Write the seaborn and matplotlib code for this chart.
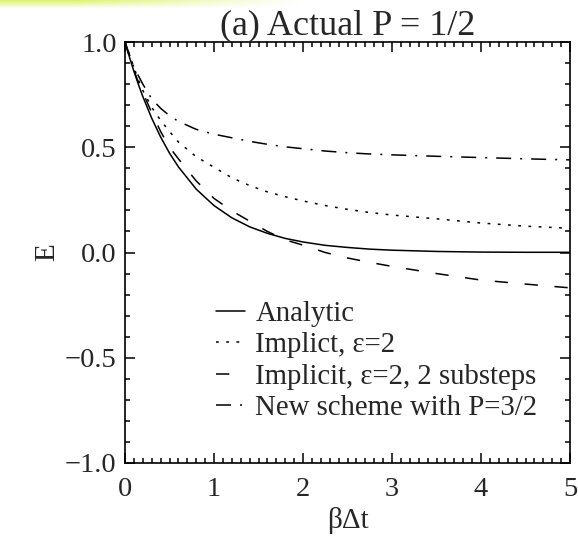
import numpy as np
import pandas as pd
import matplotlib
matplotlib.use("Agg")
import matplotlib.pyplot as plt
from matplotlib.ticker import MultipleLocator, FuncFormatter
import seaborn as sns

# ---- data ----
x_vals = [0, 0.05, 0.1, 0.15, 0.2, 0.3, 0.4, 0.5, 0.6, 0.8, 1.0, 1.2, 1.4, 1.6,
          1.8, 2.0, 2.25, 2.5, 2.75, 3.0, 3.5, 4.0, 4.5, 5.0]
analytic = [1.0, 0.928, 0.861, 0.799, 0.741, 0.638, 0.549, 0.472, 0.407, 0.301,
            0.223, 0.165, 0.122, 0.091, 0.067, 0.050, 0.034, 0.024, 0.016, 0.011,
            0.005, 0.002, 0.001, 0.001]
implicit = [1.0, 0.94, 0.88, 0.82, 0.77, 0.69, 0.628, 0.575, 0.525, 0.455,
            0.405, 0.355, 0.318, 0.288, 0.265, 0.245, 0.223, 0.205, 0.19, 0.178,
            0.16, 0.14, 0.125, 0.115]
implicit_sub = [1.0, 0.93, 0.865, 0.81, 0.76, 0.665, 0.575, 0.5, 0.445, 0.34,
                0.257, 0.198, 0.149, 0.10, 0.06, 0.035, 0.0, -0.026, -0.047, -0.066,
                -0.10, -0.131, -0.15, -0.168]
new_scheme = [1.0, 0.94, 0.88, 0.84, 0.80, 0.73, 0.685, 0.65, 0.623, 0.585,
              0.562, 0.545, 0.528, 0.514, 0.502, 0.493, 0.482, 0.474, 0.468, 0.464,
              0.457, 0.451, 0.445, 0.44]
series_names = ["Analytic", "Implict, \u03b5=2", "Implicit, \u03b5=2, 2 substeps",
                "New scheme with P=3/2"]
title = "(a) Actual P = 1/2"
xlabel = "\u03b2\u0394t"
ylabel = "E"

df = pd.DataFrame({
    "x": x_vals * 4,
    "E": analytic + implicit + implicit_sub + new_scheme,
    "series": sum([[n] * len(x_vals) for n in series_names], []),
})

sns.set_style("ticks")
plt.rcParams["font.family"] = ["Liberation Serif", "DejaVu Serif"]
plt.rcParams["axes.unicode_minus"] = True

fig = plt.figure(figsize=(5.78, 5.38), dpi=100)
ax = fig.add_axes([125 / 578, 1 - 463 / 538, 445 / 578, 421 / 538])

dash_map = {
    series_names[0]: "",
    series_names[1]: (1.8, 4.9),
    series_names[2]: (8.7, 10.9),
    series_names[3]: (9.8, 5.9, 1.3, 5.9),
}
sns.lineplot(data=df, x="x", y="E", hue="series", style="series",
             palette=["black"] * 4, dashes=dash_map, linewidth=1.1,
             estimator=None, sort=False, ax=ax, legend=True)

ax.set_xlim(0, 5)
ax.set_ylim(-1, 1)
ax.xaxis.set_major_locator(MultipleLocator(1))
ax.xaxis.set_minor_locator(MultipleLocator(0.1))
ax.yaxis.set_major_locator(MultipleLocator(0.5))
ax.yaxis.set_minor_locator(MultipleLocator(0.1))
ax.xaxis.set_major_formatter(FuncFormatter(lambda v, p: f"{v:.0f}"))
ax.yaxis.set_major_formatter(FuncFormatter(
    lambda v, p: f"{v:.1f}".replace("-", "\u2212")))
ax.tick_params(which="both", direction="in", top=True, right=True, width=1.1,
               labelsize=20.5, color="black")
ax.tick_params(which="major", length=7)
ax.tick_params(which="minor", length=3.5)
ax.tick_params(axis="x", which="major", pad=10)
ax.tick_params(axis="y", which="major", pad=6)
for s in ax.spines.values():
    s.set_linewidth(1.2)
    s.set_color("black")
    s.set_visible(True)

ax.set_title(title, fontsize=26, pad=1)
ax.set_xlabel(xlabel, fontsize=21, labelpad=4)
ax.set_ylabel(ylabel, fontsize=21)
ax.yaxis.set_label_coords(-0.146, 0.5)

leg = ax.legend(loc="upper left", bbox_to_anchor=(0.205, 0.386), frameon=False,
                fontsize=20.7, handlelength=1.0, handletextpad=0.36,
                labelspacing=0.19, borderpad=0, borderaxespad=0)
for line in leg.get_lines():
    line.set_linewidth(1.1)

# faint yellow-green glow at the top-left edge
glow = fig.add_axes([0, 1 - 9 / 538, 300 / 578, 9 / 538])
gx = np.linspace(0, 1, 300)
gy = np.linspace(0, 1, 9)
alpha = np.clip(1 - gy[:, None], 0, 1) * np.clip(1.3 - gx[None, :] * 1.3, 0, 1)
img = np.zeros((9, 300, 4))
img[..., 0] = 0.85
img[..., 1] = 0.95
img[..., 2] = 0.35
img[..., 3] = alpha * 0.9
glow.imshow(img, aspect="auto", extent=(0, 1, 0, 1), origin="upper")
glow.axis("off")

fig.savefig("out.png", dpi=100)
